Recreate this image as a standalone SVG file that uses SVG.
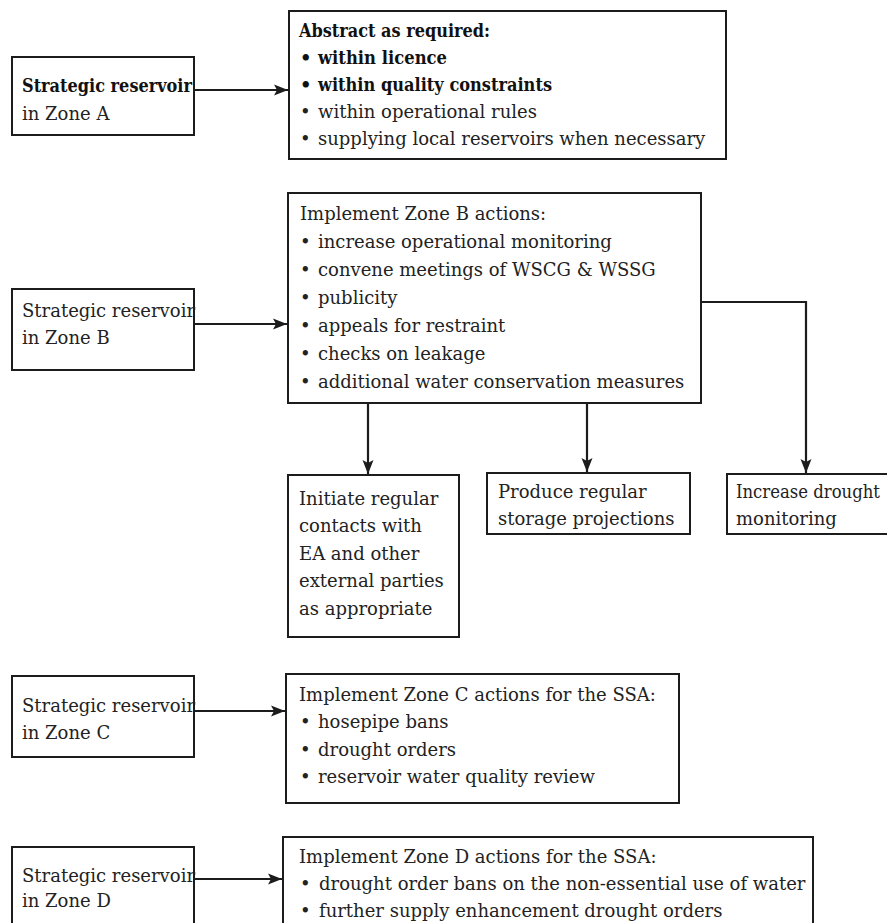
<svg xmlns="http://www.w3.org/2000/svg" width="887" height="923" viewBox="0 0 887 923">
  <style>
    .box { fill: #ffffff; stroke: #1c1c1c; stroke-width: 2; }
    .t { font-family: "DejaVu Serif", "Liberation Serif", serif; font-size: 18px; fill: #222222; }
    .b { font-weight: bold; fill: #111111; }
    .link { fill: none; stroke: #1c1c1c; stroke-width: 2.2; }
  </style>
  <defs>
    <marker id="arrow" markerUnits="userSpaceOnUse" markerWidth="15" markerHeight="12" refX="14" refY="6" orient="auto">
      <path d="M0,0.5 L14,6 L0,11.5 L3,6 Z" fill="#1c1c1c"/>
    </marker>
  </defs>
  <rect width="887" height="923" fill="#ffffff"/>

  <!-- Zone A -->
  <g id="zone-a">
    <rect class="box" x="12" y="57" width="182" height="78"/>
    <text class="t b" x="22" y="92" textLength="170" lengthAdjust="spacingAndGlyphs">Strategic reservoir</text>
    <text class="t" x="22" y="120">in Zone A</text>
  </g>
  <g id="zone-a-actions">
    <rect class="box" x="289" y="11" width="437" height="148"/>
    <text class="t b" x="299" y="37" textLength="191" lengthAdjust="spacingAndGlyphs">Abstract as required:</text>
    <text class="t b" x="300" y="64">•</text><text class="t b" x="318" y="64" textLength="129" lengthAdjust="spacingAndGlyphs">within licence</text>
    <text class="t b" x="300" y="91">•</text><text class="t b" x="318" y="91" textLength="234" lengthAdjust="spacingAndGlyphs">within quality constraints</text>
    <text class="t" x="300" y="118">•</text><text class="t" x="318" y="118">within operational rules</text>
    <text class="t" x="300" y="145">•</text><text class="t" x="318" y="145">supplying local reservoirs when necessary</text>
  </g>

  <!-- Zone B -->
  <g id="zone-b">
    <rect class="box" x="12" y="289" width="182" height="81"/>
    <text class="t" x="22" y="317">Strategic reservoir</text>
    <text class="t" x="22" y="344">in Zone B</text>
  </g>
  <g id="zone-b-actions">
    <rect class="box" x="288" y="193" width="413" height="210"/>
    <text class="t" x="300" y="220">Implement Zone B actions:</text>
    <text class="t" x="300" y="248">•</text><text class="t" x="318" y="248">increase operational monitoring</text>
    <text class="t" x="300" y="276">•</text><text class="t" x="318" y="276">convene meetings of WSCG &amp; WSSG</text>
    <text class="t" x="300" y="304">•</text><text class="t" x="318" y="304">publicity</text>
    <text class="t" x="300" y="332">•</text><text class="t" x="318" y="332">appeals for restraint</text>
    <text class="t" x="300" y="360">•</text><text class="t" x="318" y="360">checks on leakage</text>
    <text class="t" x="300" y="388">•</text><text class="t" x="318" y="388">additional water conservation measures</text>
  </g>
  <g id="external-contacts">
    <rect class="box" x="288" y="475" width="171" height="162"/>
    <text class="t" x="299" y="505">Initiate regular</text>
    <text class="t" x="299" y="532">contacts with</text>
    <text class="t" x="299" y="560">EA and other</text>
    <text class="t" x="299" y="587">external parties</text>
    <text class="t" x="299" y="615">as appropriate</text>
  </g>
  <g id="storage-projections">
    <rect class="box" x="487" y="473" width="203" height="61"/>
    <text class="t" x="498" y="498">Produce regular</text>
    <text class="t" x="498" y="525">storage projections</text>
  </g>
  <g id="drought-monitoring">
    <rect class="box" x="727" y="474" width="180" height="60"/>
    <text class="t" x="736" y="498" textLength="144" lengthAdjust="spacingAndGlyphs">Increase drought</text>
    <text class="t" x="736" y="525">monitoring</text>
  </g>

  <!-- Zone C -->
  <g id="zone-c">
    <rect class="box" x="12" y="676" width="182" height="81"/>
    <text class="t" x="22" y="712">Strategic reservoir</text>
    <text class="t" x="22" y="739">in Zone C</text>
  </g>
  <g id="zone-c-actions">
    <rect class="box" x="286" y="674" width="393" height="129"/>
    <text class="t" x="299" y="701">Implement Zone C actions for the SSA:</text>
    <text class="t" x="300" y="728">•</text><text class="t" x="318" y="728">hosepipe bans</text>
    <text class="t" x="300" y="755.5">•</text><text class="t" x="318" y="755.5">drought orders</text>
    <text class="t" x="300" y="783">•</text><text class="t" x="318" y="783">reservoir water quality review</text>
  </g>

  <!-- Zone D -->
  <g id="zone-d">
    <rect class="box" x="12" y="847" width="182" height="90"/>
    <text class="t" x="22" y="882">Strategic reservoir</text>
    <text class="t" x="22" y="907">in Zone D</text>
  </g>
  <g id="zone-d-actions">
    <rect class="box" x="283" y="837" width="530" height="100"/>
    <text class="t" x="299" y="863">Implement Zone D actions for the SSA:</text>
    <text class="t" x="300" y="890">•</text><text class="t" x="319" y="890">drought order bans on the non-essential use of water</text>
    <text class="t" x="300" y="917">•</text><text class="t" x="319" y="917">further supply enhancement drought orders</text>
  </g>

  <!-- Connectors -->
  <g id="connectors">
    <path class="link" d="M194,90 H288" marker-end="url(#arrow)"/>
    <path class="link" d="M194,324 H287" marker-end="url(#arrow)"/>
    <path class="link" d="M368,403 V474" marker-end="url(#arrow)"/>
    <path class="link" d="M587,403 V472" marker-end="url(#arrow)"/>
    <path class="link" d="M701,302 H806 V473" marker-end="url(#arrow)"/>
    <path class="link" d="M194,711 H285" marker-end="url(#arrow)"/>
    <path class="link" d="M194,879 H282" marker-end="url(#arrow)"/>
  </g>
</svg>
